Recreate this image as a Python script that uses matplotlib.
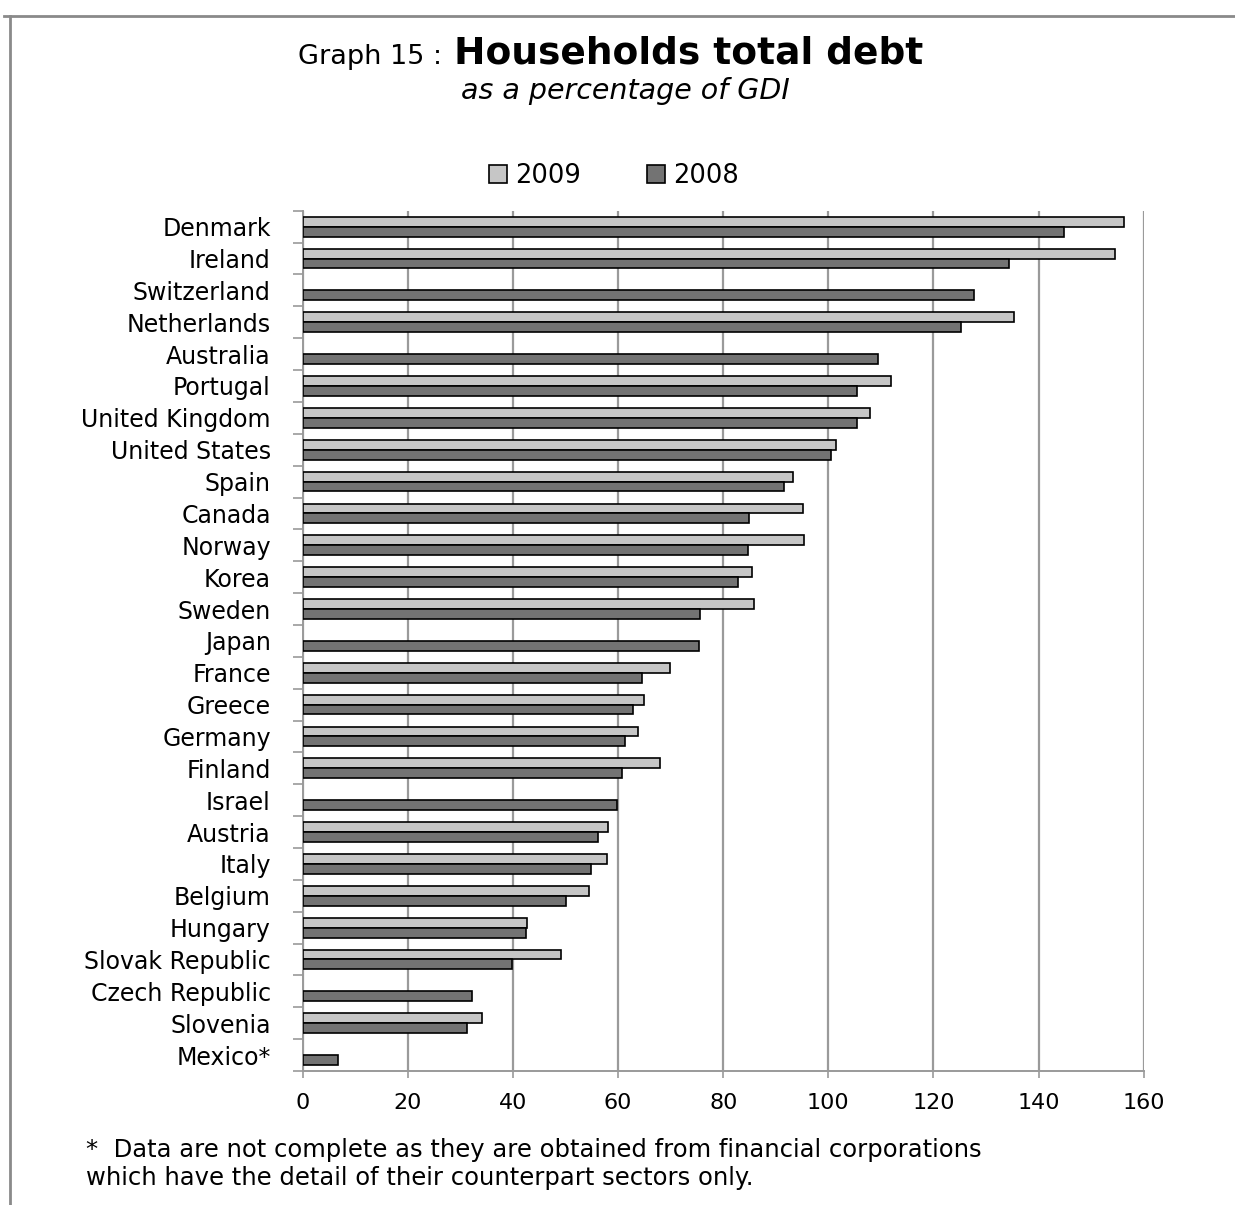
import numpy as np
import matplotlib.pyplot as plt
from matplotlib.patches import Patch
from matplotlib.lines import Line2D

countries = ['Denmark', 'Ireland', 'Switzerland', 'Netherlands', 'Australia',
             'Portugal', 'United Kingdom', 'United States', 'Spain', 'Canada',
             'Norway', 'Korea', 'Sweden', 'Japan', 'France', 'Greece', 'Germany',
             'Finland', 'Israel', 'Austria', 'Italy', 'Belgium', 'Hungary',
             'Slovak Republic', 'Czech Republic', 'Slovenia', 'Mexico*']

debt_2009 = [156.3, 154.5, np.nan, 135.3, np.nan, 111.9, 107.9, 101.5, 93.3, 95.1,
             95.4, 85.4, 85.9, np.nan, 69.8, 64.9, 63.7, 68.0, np.nan, 58.0,
             57.9, 54.5, 42.7, 49.1, np.nan, 34.2, np.nan]

debt_2008 = [144.8, 134.4, 127.7, 125.2, 109.4, 105.5, 105.5, 100.6, 91.5, 85.0,
             84.7, 82.9, 75.6, 75.3, 64.6, 62.8, 61.3, 60.7, 59.7, 56.1,
             54.9, 50.0, 42.4, 39.9, 32.3, 31.2, 6.8]

x_ticks = [0, 20, 40, 60, 80, 100, 120, 140, 160]

light = '#c6c6c6'
dark = '#737373'
grid_col = '#9a9a9a'

fig = plt.figure(figsize=(12.35, 12.05), dpi=100)
ax = fig.add_axes([0.2451, 0.1112, 0.6810, 0.7139])

y = np.arange(len(countries))
h = 0.31
ax.barh(y - 0.155, debt_2009, height=h, color=light, edgecolor='black', linewidth=1.2, zorder=3)
ax.barh(y + 0.155, debt_2008, height=h, color=dark, edgecolor='black', linewidth=1.2, zorder=3)

ax.set_xlim(0, 160)
ax.set_ylim(len(countries) - 0.5, -0.5)
ax.set_xticks(x_ticks)
ax.set_xticklabels([str(v) for v in x_ticks], fontsize=16)
ax.set_yticks(y)
ax.set_yticklabels(countries, fontsize=17)
ax.set_yticks(np.arange(len(countries) + 1) - 0.5, minor=True)

ax.xaxis.grid(True, color=grid_col, linewidth=1.6, zorder=0)
ax.tick_params(axis='y', which='major', length=0, pad=23)
ax.tick_params(axis='y', which='minor', length=7.5, width=1.2, color=grid_col, direction='out')
ax.tick_params(axis='x', length=5, width=1.2, color=grid_col, pad=11)

for side in ['top', 'right']:
    ax.spines[side].set_visible(False)
for side in ['left', 'bottom']:
    ax.spines[side].set_color(grid_col)
    ax.spines[side].set_linewidth(1.4)

# title in two weights
fig.text(451 / 1235, 0.9469, 'Graph 15 : ', ha='right', va='baseline', fontsize=19.5)
fig.text(454 / 1235, 0.9469, 'Households total debt', ha='left', va='baseline',
         fontsize=27, fontweight='bold')
fig.text(0.506, 0.918, 'as a percentage of GDI', ha='center', va='baseline',
         fontsize=20.5, style='italic')

handles = [Patch(facecolor=light, edgecolor='black', linewidth=1.2, label='2009'),
           Patch(facecolor=dark, edgecolor='black', linewidth=1.2, label='2008')]
fig.legend(handles=handles, loc='center', bbox_to_anchor=(0.497, 0.854), ncol=2,
           frameon=False, fontsize=18.5, handlelength=0.7, handleheight=0.7,
           handletextpad=0.3, columnspacing=2.6)

fig.text(86 / 1235, 1 - 1157 / 1205,
         '*  Data are not complete as they are obtained from financial corporations',
         ha='left', va='baseline', fontsize=17.5)
fig.text(86 / 1235, 1 - 1185 / 1205,
         'which have the detail of their counterpart sectors only.',
         ha='left', va='baseline', fontsize=17.5)

# outer frame (top and left edges only)
fig.add_artist(Line2D([4 / 1235, 1.0], [1 - 16 / 1205] * 2, color='#8a8a8a', linewidth=2))
fig.add_artist(Line2D([10 / 1235] * 2, [0.0, 1 - 16 / 1205], color='#8a8a8a', linewidth=2))

fig.savefig('out.png', dpi=100)
